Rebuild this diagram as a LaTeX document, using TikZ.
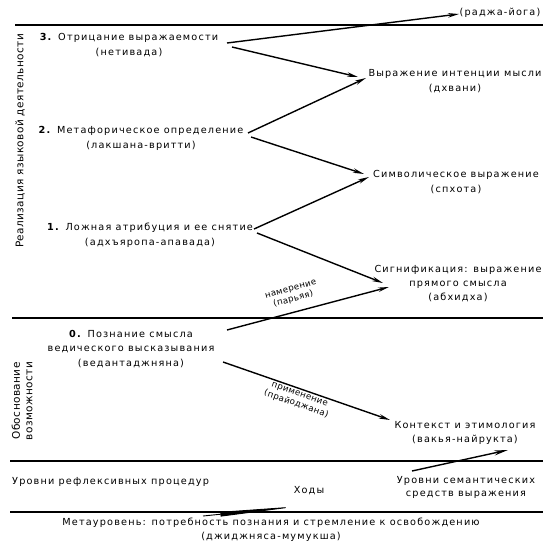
\documentclass[tikz,border=0pt]{standalone}
\usepackage{fontspec}
\setmainfont{DejaVu Sans}
\newfontfamily\rf[LetterSpace=12]{DejaVu Sans}
\newfontfamily\vf[LetterSpace=4]{DejaVu Sans}
\newfontfamily\lf[LetterSpace=4]{DejaVu Sans}
\usetikzlibrary{arrows.meta}
\tikzset{
  txt/.style={font=\rf\fontsize{9.7}{15}\selectfont, inner sep=0pt, align=center},
  vtxt/.style={font=\vf\fontsize{10.5}{12.5}\selectfont, inner sep=0pt, align=center, rotate=90},
  lbl/.style={font=\lf\fontsize{8.6}{10.5}\selectfont, inner sep=0pt, align=center},
  hline/.style={line width=2.6pt},
  arr/.style={line width=1.4pt, -{Stealth[length=11pt,width=4.5pt]}},
}
\begin{document}
\begin{tikzpicture}[x=1pt,y=-1pt]
\useasboundingbox (0,0) rectangle (552,552);
% horizontal lines
\draw[hline] (15,25) -- (543,25);
\draw[hline] (12,318) -- (543,318);
\draw[hline] (10,461) -- (543,461);
\draw[hline] (10,512) -- (543,512);
% vertical labels
\node[vtxt] (real) at (20,141) {Реализация языковой деятельности};
\node[vtxt] (obos) at (22,401) {Обоснование\\возможности};
% left nodes
\node[txt] (n3) at (129,45) {\textbf{3.} Отрицание выражаемости\\(нетивада)};
\node[txt] (n2) at (141,138) {\textbf{2.} Метафорическое определение\\(лакшана-вритти)};
\node[txt] (n1) at (150,235) {\textbf{1.} Ложная атрибуция и ее снятие\\(адхъяропа-апавада)};
\node[txt, font=\rf\fontsize{9.7}{14.5}\selectfont] (n0) at (131,349) {\textbf{0.} Познание смысла\\ведического высказывания\\(ведантаджняна)};
% right nodes
\node[txt] (raja) at (500,13) {(раджа-йога)};
\node[txt] (dhv) at (455,81) {Выражение интенции мысли\\(дхвани)};
\node[txt] (sph) at (456,182) {Символическое выражение\\(спхота)};
\node[txt, font=\rf\fontsize{9.7}{14}\selectfont] (abh) at (458,284) {Сигнификация: выражение\\прямого смысла\\(абхидха)};
\node[txt, font=\rf\fontsize{9.7}{14}\selectfont] (ctx) at (465,433) {Контекст и этимология\\(вакья-найрукта)};
% legend
\node[txt, anchor=west] (refl) at (12,482) {Уровни рефлексивных процедур};
\node[txt] (hod) at (309,491) {Ходы};
\node[txt, font=\rf\fontsize{9.7}{13}\selectfont] (sem) at (466,487) {Уровни семантических\\средств выражения};
\node[txt, font=\rf\fontsize{9.7}{14}\selectfont] (meta) at (271,530) {Метауровень: потребность познания и стремление к освобождению\\(джиджняса-мумукша)};
% connector end points
\coordinate (a3u) at (227,43);  \coordinate (e3u) at (459,14);
\coordinate (a3d) at (232,47);  \coordinate (e3d) at (358,77);
\coordinate (a2u) at (248,133); \coordinate (e2u) at (366,78);
\coordinate (a2d) at (251,137); \coordinate (e2d) at (364,174);
\coordinate (a1u) at (254,229); \coordinate (e1u) at (369,177);
\coordinate (a1d) at (257,233); \coordinate (e1d) at (383,283);
\coordinate (a0u) at (227,330); \coordinate (e0u) at (389,287);
\coordinate (a0d) at (223,362); \coordinate (e0d) at (390,420);
\coordinate (ls) at (412,471);  \coordinate (le) at (508,450);
\coordinate (hs) at (203,516);  \coordinate (he) at (302,506);
% connectors
\draw[arr] (a3u) -- (e3u);
\draw[arr] (a3d) -- (e3d);
\draw[arr] (a2u) -- (e2u);
\draw[arr] (a2d) -- (e2d);
\draw[arr] (a1u) -- (e1u);
\draw[arr] (a1d) -- (e1d);
\draw[arr] (a0u) -- node[lbl, rotate=15, above=8pt, pos=0.43] (par) {намерение\\(парьяя)} (e0u);
\draw[arr] (a0d) -- node[lbl, rotate=-19.5, below=2pt, pos=0.47] (pra) {применение\\(прайоджана)} (e0d);
\draw[arr, -{Stealth[length=14pt,width=5pt]}] (ls) -- (le);
\draw[line width=0.9pt, -{Stealth[length=82pt,width=4.5pt,inset=0pt]}] (hs) -- (he);
\end{tikzpicture}
\end{document}
